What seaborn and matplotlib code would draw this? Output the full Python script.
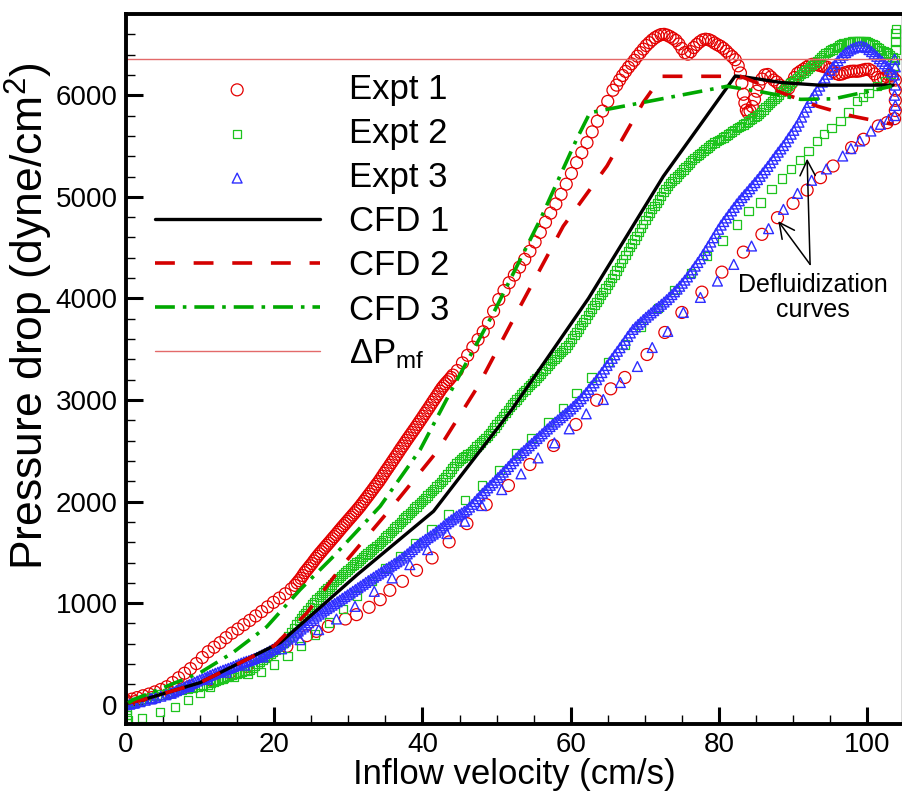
import matplotlib
matplotlib.use("Agg")
import matplotlib.pyplot as plt
from matplotlib.ticker import MultipleLocator
import seaborn as sns

# ---------------- data: (velocity, pressure drop) ----------------
# Expt 1, fluidization branch (dense)
expt1_fluid = [
    (0.0, 40), (0.3, 20), (0.8, 55), (1.5, 70), (2.3, 88), (3.1, 105), (3.9, 126), (4.7, 150), (5.5, 177), (6.3, 218),
    (7.1, 265), (7.9, 310), (8.7, 355), (9.5, 405), (10.3, 465), (11.1, 522), (11.9, 566), (12.7, 611), (13.5, 660), (14.3, 705),
    (15.1, 745), (15.9, 788), (16.7, 830), (17.5, 874), (18.3, 917), (19.1, 963), (19.9, 1008), (20.7, 1050), (21.5, 1092), (22.3, 1140),
    (22.8, 1175), (23.1, 1200), (23.35, 1222), (23.6, 1245), (23.85, 1272), (24.1, 1300), (24.35, 1322), (24.6, 1345), (24.85, 1368), (25.1, 1390),
    (25.35, 1415), (25.6, 1440), (25.85, 1462), (26.1, 1485), (26.35, 1506), (26.6, 1528), (26.85, 1549), (27.1, 1570), (27.35, 1591), (27.6, 1612),
    (27.85, 1634), (28.1, 1655), (28.35, 1676), (28.6, 1698), (28.85, 1720), (29.1, 1742), (29.35, 1763), (29.6, 1784), (29.85, 1805), (30.1, 1826),
    (30.35, 1847), (30.6, 1868), (30.85, 1889), (31.1, 1910), (31.35, 1932), (31.6, 1954), (31.85, 1978), (32.1, 2002), (32.35, 2026), (32.6, 2050),
    (32.85, 2074), (33.1, 2098), (33.35, 2123), (33.6, 2148), (33.85, 2172), (34.1, 2196), (34.35, 2223), (34.6, 2250), (34.85, 2278), (35.1, 2305),
    (35.35, 2331), (35.6, 2358), (35.85, 2385), (36.1, 2412), (36.35, 2439), (36.6, 2466), (36.85, 2494), (37.1, 2522), (37.35, 2548), (37.6, 2575),
    (37.85, 2602), (38.1, 2628), (38.35, 2654), (38.6, 2680), (38.85, 2706), (39.1, 2732), (39.35, 2759), (39.6, 2786), (39.85, 2813), (40.1, 2840),
    (40.35, 2868), (40.6, 2895), (40.85, 2922), (41.1, 2950), (41.35, 2978), (41.6, 3005), (41.85, 3032), (42.1, 3060), (42.35, 3088), (42.6, 3115),
    (42.85, 3138), (43.1, 3160), (43.35, 3180), (43.6, 3200), (43.85, 3222), (44.1, 3245), (44.7, 3290), (45.4, 3365), (46.1, 3440), (46.8, 3520),
    (47.5, 3595), (48.2, 3672), (48.9, 3760), (49.6, 3875), (50.3, 3990), (51.0, 4078), (51.7, 4155), (52.4, 4230), (53.1, 4308), (53.8, 4385),
    (54.5, 4465), (55.2, 4555), (55.9, 4650), (56.6, 4750), (57.3, 4840), (58.0, 4930), (58.7, 5025), (59.4, 5125), (60.1, 5230), (60.8, 5337),
    (61.5, 5435), (62.2, 5534), (62.9, 5640), (63.6, 5745), (64.3, 5845), (65.0, 5940), (65.7, 6050), (66.2, 6100), (66.6, 6150), (67.0, 6195),
    (67.4, 6235), (67.8, 6275), (68.2, 6310), (68.6, 6345), (69.0, 6385), (69.4, 6420), (69.8, 6455), (70.2, 6490), (70.6, 6518), (71.0, 6545),
    (71.4, 6568), (71.8, 6585), (72.2, 6598), (72.6, 6600), (73.0, 6592), (73.4, 6578), (73.8, 6560), (74.2, 6540), (74.6, 6505), (75.0, 6460),
    (75.4, 6420), (75.8, 6405), (76.2, 6430), (76.6, 6470), (77.0, 6500), (77.4, 6525), (77.8, 6545), (78.2, 6552), (78.6, 6548), (79.0, 6535),
    (79.4, 6515), (79.8, 6498), (80.2, 6483), (80.6, 6462), (81.0, 6435), (81.4, 6405), (81.8, 6380), (82.2, 6350), (82.6, 6290), (82.9, 6220),
    (83.1, 6120), (83.3, 6010), (83.5, 5925), (83.7, 5855), (83.9, 5830), (84.2, 5845), (84.5, 5890), (84.8, 5960), (85.1, 6040), (85.4, 6105),
    (85.8, 6160), (86.2, 6200), (86.6, 6205), (87.0, 6180), (87.4, 6150), (87.8, 6130), (88.2, 6100), (88.6, 6075), (89.0, 6062), (89.4, 6070),
    (89.8, 6120), (90.2, 6175), (90.6, 6215), (91.0, 6236), (91.4, 6255), (91.8, 6275), (92.2, 6295), (92.6, 6305), (93.0, 6305), (93.4, 6298),
    (93.8, 6290), (94.2, 6282), (94.6, 6276), (95.0, 6255), (95.4, 6235), (95.8, 6215), (96.2, 6205), (96.6, 6210), (97.0, 6222), (97.4, 6230),
    (97.8, 6236), (98.2, 6238), (98.6, 6236), (99.0, 6240), (99.4, 6248), (99.8, 6255), (100.2, 6256), (100.6, 6240), (101.0, 6210), (101.4, 6175),
    (101.8, 6158), (102.2, 6170), (102.6, 6185), (103.0, 6195), (103.4, 6190), (103.8, 6150), (103.8, 6050), (103.8, 5950), (103.8, 5850), (103.7, 5770),
]
# Expt 1, defluidization branch (sparse)
expt1_defluid = [
    (102.7, 5731), (101.5, 5698), (99.5, 5567), (97.9, 5485), (95.4, 5304), (93.7, 5189), (91.9, 5067), (90.0, 4936), (87.9, 4795), (85.8, 4631),
    (83.3, 4456), (80.4, 4259), (77.7, 4062), (75.0, 3862), (72.7, 3665), (70.3, 3448), (67.3, 3222), (65.4, 3110), (63.5, 2998), (60.7, 2759),
    (57.7, 2552), (54.5, 2365), (51.6, 2158), (48.6, 1970), (46.0, 1783), (43.6, 1603), (41.3, 1445), (39.2, 1323), (37.3, 1215), (35.6, 1126),
    (34.3, 1034), (32.8, 959), (31.1, 887), (29.6, 844), (27.3, 771), (25.7, 722), (24.4, 680), (21.7, 574), (19.0, 476), (16.3, 377),
    (14.0, 315), (11.3, 246), (8.6, 180), (6.0, 120), (3.5, 70), (1.2, 30), (0.2, 10),
]

# Expt 2
expt2_fluid = [
    (0.0, 0), (0.6, 10), (1.3, 25), (2.0, 40), (2.7, 55), (3.4, 70), (4.1, 85), (4.8, 100), (5.5, 112), (6.2, 125),
    (6.9, 138), (7.6, 150), (8.3, 160), (9.0, 170), (9.7, 180), (10.4, 190),
    (11.1, 200), (11.45, 212), (11.8, 225), (12.15, 236), (12.5, 248), (12.85, 258), (13.2, 268), (13.55, 277), (13.9, 285), (14.25, 292),
    (14.6, 300), (14.95, 307), (15.3, 315), (15.65, 322), (16.0, 330), (16.35, 337), (16.7, 345), (17.05, 363), (17.4, 382), (17.75, 401),
    (18.1, 420), (18.45, 440), (18.8, 460), (19.15, 480), (19.5, 500), (19.85, 522), (20.2, 545), (20.55, 567), (20.9, 590), (21.25, 612),
    (21.6, 635), (21.95, 672), (22.3, 710), (22.65, 750), (23.0, 790), (23.3, 822), (23.6, 855), (23.9, 880), (24.2, 905), (24.5, 932),
    (24.8, 960), (25.1, 985), (25.4, 1010), (25.7, 1035), (26.0, 1060), (26.3, 1082), (26.6, 1105), (26.9, 1125), (27.2, 1145), (27.5, 1165),
    (27.8, 1185), (28.1, 1206), (28.4, 1228), (28.7, 1248), (29.0, 1268), (29.3, 1286), (29.6, 1305), (29.9, 1325), (30.2, 1345), (30.5, 1363),
    (30.8, 1382), (31.1, 1400), (31.4, 1418), (31.7, 1435), (32.0, 1452), (32.3, 1471), (32.6, 1490), (32.9, 1509), (33.2, 1528), (33.5, 1546),
    (33.8, 1564), (34.1, 1582), (34.4, 1600), (34.7, 1622), (35.0, 1645), (35.3, 1667), (35.6, 1690), (35.9, 1712), (36.2, 1735), (36.5, 1756),
    (36.8, 1778), (37.1, 1800), (37.4, 1822), (37.7, 1843), (38.0, 1865), (38.3, 1888), (38.6, 1910), (38.9, 1931), (39.2, 1952), (39.5, 1973),
    (39.8, 1995), (40.1, 2016), (40.4, 2038), (40.7, 2060), (41.0, 2082), (41.3, 2103), (41.6, 2125), (41.9, 2147), (42.2, 2170), (42.5, 2193),
    (42.8, 2217), (43.1, 2243), (43.4, 2270), (43.7, 2297), (44.0, 2325), (44.3, 2353), (44.6, 2381), (44.9, 2400), (45.2, 2420), (45.5, 2435),
    (45.8, 2450), (46.1, 2465), (46.4, 2480), (46.7, 2500), (47.0, 2520), (47.3, 2541), (47.6, 2562), (47.9, 2583), (48.2, 2605), (48.5, 2628),
    (48.8, 2652), (49.1, 2676), (49.4, 2700), (49.7, 2730), (50.0, 2760), (50.3, 2787), (50.6, 2815), (50.9, 2843), (51.2, 2872), (51.5, 2900),
    (51.8, 2928), (52.1, 2955), (52.4, 2982), (52.7, 3006), (53.0, 3030), (53.3, 3054), (53.6, 3078), (53.9, 3101), (54.2, 3125), (54.5, 3147),
    (54.8, 3170), (55.1, 3192), (55.4, 3215), (55.7, 3238), (56.0, 3262), (56.3, 3286), (56.6, 3310), (56.9, 3335), (57.2, 3360), (57.5, 3382),
    (57.8, 3405), (58.1, 3427), (58.4, 3450), (58.7, 3471), (59.0, 3492), (59.3, 3516), (59.6, 3540), (59.9, 3572), (60.2, 3605), (60.5, 3638),
    (60.8, 3672), (61.1, 3705), (61.4, 3738), (61.7, 3769), (62.0, 3800), (62.3, 3834), (62.6, 3868), (62.9, 3901), (63.2, 3935), (63.5, 3967),
    (63.8, 4000), (64.1, 4032), (64.4, 4065), (64.7, 4097), (65.0, 4130), (65.3, 4165), (65.6, 4200), (65.9, 4237), (66.2, 4275), (66.5, 4312),
    (66.8, 4350), (67.1, 4387), (67.4, 4425), (67.7, 4465), (68.0, 4505), (68.3, 4542), (68.6, 4580), (68.9, 4617), (69.2, 4655), (69.5, 4692),
    (69.8, 4730), (70.1, 4770), (70.4, 4810), (70.7, 4845), (71.0, 4880), (71.3, 4910), (71.6, 4940), (71.9, 4975), (72.2, 5010), (72.5, 5045),
    (72.8, 5080), (73.1, 5107), (73.4, 5135), (73.7, 5157), (74.0, 5180), (74.3, 5202), (74.6, 5225), (74.9, 5247), (75.2, 5270), (75.5, 5292),
    (75.8, 5315), (76.1, 5337), (76.4, 5360), (76.7, 5380), (77.0, 5400), (77.3, 5417), (77.6, 5435), (77.9, 5452), (78.2, 5470), (78.5, 5487),
    (78.8, 5505), (79.1, 5520), (79.4, 5535), (79.7, 5547), (80.0, 5560), (80.3, 5572), (80.6, 5585), (80.9, 5600), (81.2, 5615), (81.5, 5630),
    (81.8, 5645), (82.1, 5660), (82.4, 5675), (82.7, 5687), (83.0, 5700), (83.3, 5714), (83.6, 5728), (83.9, 5741), (84.2, 5755), (84.5, 5770),
    (84.8, 5785), (85.1, 5800), (85.4, 5815), (85.7, 5837), (86.0, 5860), (86.3, 5882), (86.6, 5905), (86.9, 5925), (87.2, 5945), (87.5, 5965),
    (87.8, 5985), (88.1, 6007), (88.4, 6030), (88.7, 6052), (89.0, 6075), (89.3, 6095), (89.6, 6115), (89.9, 6132), (90.2, 6150), (90.5, 6170),
    (90.8, 6190), (91.1, 6207), (91.4, 6225), (91.7, 6243), (92.0, 6262), (92.3, 6281), (92.6, 6300), (92.9, 6320), (93.2, 6340), (93.5, 6360),
    (93.8, 6380), (94.1, 6397), (94.4, 6415), (94.7, 6427), (95.0, 6440), (95.3, 6452), (95.6, 6465), (95.9, 6477), (96.2, 6490), (96.5, 6500),
    (96.8, 6510), (97.1, 6516), (97.4, 6522), (97.7, 6526), (98.0, 6530), (98.3, 6532), (98.6, 6535), (98.9, 6535), (99.2, 6535), (99.5, 6532),
    (99.8, 6530), (100.1, 6522), (100.4, 6515), (100.7, 6502), (101.0, 6490), (101.3, 6475), (101.6, 6460), (101.9, 6447), (102.2, 6435), (102.5, 6422),
    (102.8, 6410), (103.1, 6395), (103.4, 6380), (103.8, 6450), (103.8, 6530), (103.8, 6610), (103.9, 6650), (103.7, 6350), (103.6, 6290),
]
expt2_defluid = [
    (103.2, 6210), (102.4, 6138), (101.3, 6090), (100.2, 6020), (99.4, 5985), (98.6, 5944), (97.5, 5829), (96.4, 5747), (95.2, 5681), (94.2, 5616),
    (93.2, 5550), (92.1, 5451), (90.9, 5360), (89.7, 5275), (88.5, 5182), (87.1, 5079), (85.6, 4946), (84.0, 4860), (82.4, 4729), (80.5, 4571),
    (78.4, 4417), (76.2, 4250), (74.0, 4085), (71.8, 3905), (69.5, 3725), (67.3, 3545), (65.0, 3375), (62.8, 3220), (60.8, 3070), (59.0, 2923),
    (57.0, 2781), (54.7, 2627), (52.6, 2473), (50.4, 2309), (48.0, 2158), (45.7, 2013), (43.5, 1872), (41.2, 1724), (39.0, 1593), (37.0, 1461),
    (35.0, 1346), (33.2, 1215), (31.2, 1075), (29.3, 940), (27.4, 810), (25.5, 690), (23.6, 580), (21.8, 480), (20.0, 395), (18.2, 325),
    (16.4, 300), (14.6, 275), (13.1, 250), (11.3, 177), (10.0, 118), (8.4, 49), (6.6, -20), (4.6, -69), (2.2, -128), (0.3, -148),
    (0.1, -180), (0.1, -100), (0.1, -50),
]

# Expt 3
expt3_fluid = [
    (0.0, 0), (0.5, 5), (1.2, 18), (1.9, 30), (2.6, 44), (3.3, 57), (4.0, 70), (4.7, 84), (5.4, 98), (6.1, 113),
    (6.45, 126), (6.8, 140), (7.15, 151), (7.5, 163), (7.85, 174), (8.2, 186), (8.55, 198), (8.9, 210), (9.25, 221), (9.6, 233),
    (9.95, 245), (10.3, 256), (10.65, 267), (11.0, 278), (11.35, 289), (11.7, 300), (12.05, 310), (12.4, 320), (12.75, 330), (13.1, 340),
    (13.45, 349), (13.8, 358), (14.15, 367), (14.5, 377), (14.85, 388), (15.2, 400), (15.55, 410), (15.9, 420), (16.25, 428), (16.6, 435),
    (16.95, 445), (17.3, 455), (17.65, 466), (18.0, 478), (18.35, 490), (18.7, 502), (19.05, 516), (19.4, 530), (19.75, 545), (20.1, 560),
    (20.45, 576), (20.8, 592), (21.15, 609), (21.5, 627), (21.85, 646), (22.2, 665), (22.55, 685), (22.9, 705), (23.25, 725), (23.6, 745),
    (23.95, 765), (24.3, 785), (24.65, 807), (25.0, 830), (25.35, 851), (25.7, 873), (26.05, 892), (26.4, 912), (26.75, 930), (27.1, 947),
    (27.45, 963), (27.8, 980), (28.15, 996), (28.5, 1013), (28.85, 1030), (29.2, 1048), (29.55, 1065), (29.9, 1082), (30.25, 1100), (30.6, 1117),
    (30.95, 1134), (31.3, 1152), (31.65, 1169), (32.0, 1186), (32.35, 1204), (32.7, 1222), (33.05, 1238), (33.4, 1255), (33.75, 1272), (34.1, 1288),
    (34.45, 1305), (34.8, 1322), (35.15, 1340), (35.5, 1357), (35.85, 1373), (36.2, 1390), (36.55, 1407), (36.9, 1424), (37.25, 1444), (37.6, 1464),
    (37.95, 1485), (38.3, 1506), (38.65, 1528), (39.0, 1550), (39.35, 1571), (39.7, 1593), (40.05, 1610), (40.4, 1628), (40.75, 1645), (41.1, 1662),
    (41.45, 1680), (41.8, 1698), (42.15, 1719), (42.5, 1740), (42.85, 1761), (43.2, 1782), (43.55, 1801), (43.9, 1820), (44.25, 1838), (44.6, 1856),
    (44.95, 1872), (45.3, 1888), (45.65, 1904), (46.0, 1920), (46.35, 1946), (46.7, 1973), (47.05, 2000), (47.4, 2028), (47.75, 2055), (48.1, 2082),
    (48.45, 2108), (48.8, 2135), (49.15, 2160), (49.5, 2185), (49.85, 2211), (50.2, 2237), (50.55, 2263), (50.9, 2290), (51.25, 2317), (51.6, 2345),
    (51.95, 2373), (52.3, 2402), (52.65, 2429), (53.0, 2456), (53.35, 2480), (53.7, 2503), (54.05, 2526), (54.4, 2550), (54.75, 2573), (55.1, 2597),
    (55.45, 2621), (55.8, 2645), (56.15, 2668), (56.5, 2692), (56.85, 2715), (57.2, 2739), (57.55, 2761), (57.9, 2783), (58.25, 2804), (58.6, 2826),
    (58.95, 2847), (59.3, 2868), (59.65, 2890), (60.0, 2912), (60.35, 2937), (60.7, 2962), (61.05, 2987), (61.4, 3013), (61.75, 3042), (62.1, 3072),
    (62.45, 3105), (62.8, 3138), (63.15, 3169), (63.5, 3200), (63.85, 3235), (64.2, 3270), (64.55, 3305), (64.9, 3340), (65.25, 3375), (65.6, 3410),
    (65.95, 3445), (66.3, 3480), (66.65, 3515), (67.0, 3550), (67.35, 3587), (67.7, 3625), (68.05, 3660), (68.4, 3695), (68.75, 3720), (69.1, 3745),
    (69.45, 3768), (69.8, 3792), (70.15, 3815), (70.5, 3837), (70.85, 3858), (71.2, 3880), (71.55, 3901), (71.9, 3922), (72.25, 3943), (72.6, 3965),
    (72.95, 3988), (73.3, 4012), (73.65, 4038), (74.0, 4065), (74.35, 4092), (74.7, 4120), (75.05, 4150), (75.4, 4180), (75.75, 4212), (76.1, 4245),
    (76.45, 4281), (76.8, 4318), (77.15, 4354), (77.5, 4390), (77.85, 4431), (78.2, 4472), (78.55, 4513), (78.9, 4555), (79.25, 4597), (79.6, 4640),
    (79.95, 4681), (80.3, 4722), (80.65, 4757), (81.0, 4792), (81.35, 4827), (81.7, 4862), (82.05, 4896), (82.4, 4930), (82.75, 4961), (83.1, 4993),
    (83.45, 5021), (83.8, 5050), (84.15, 5080), (84.5, 5110), (84.85, 5140), (85.2, 5170), (85.55, 5202), (85.9, 5235), (86.25, 5267), (86.6, 5300),
    (86.95, 5335), (87.3, 5370), (87.65, 5405), (88.0, 5440), (88.35, 5472), (88.7, 5505), (89.05, 5542), (89.4, 5580), (89.75, 5617), (90.1, 5655),
    (90.45, 5695), (90.8, 5735), (91.15, 5785), (91.5, 5835), (91.85, 5882), (92.2, 5930), (92.55, 5970), (92.9, 6010), (93.25, 6050), (93.6, 6090),
    (93.95, 6130), (94.3, 6170), (94.65, 6207), (95.0, 6245), (95.35, 6278), (95.7, 6310), (96.05, 6340), (96.4, 6370), (96.75, 6395), (97.1, 6420),
    (97.45, 6438), (97.8, 6455), (98.15, 6465), (98.5, 6475), (98.85, 6480), (99.2, 6485), (99.55, 6478), (99.9, 6470), (100.25, 6450), (100.6, 6430),
    (100.95, 6407), (101.3, 6384), (101.65, 6360), (102.0, 6335), (102.35, 6310), (102.7, 6286), (103.0, 6258), (103.3, 6230), (103.7, 6355), (103.8, 6280),
    (103.7, 6200), (103.8, 6100), (103.7, 6000), (103.8, 5900), (103.7, 5800),
]
expt3_defluid = [
    (102.9, 5764), (101.8, 5714), (100.5, 5648), (99.0, 5550), (97.8, 5475), (96.7, 5402), (94.5, 5275), (92.5, 5163), (90.6, 5034), (88.7, 4877),
    (86.7, 4687), (84.4, 4516), (82.0, 4335), (79.8, 4171), (77.5, 4010), (75.2, 3862), (73.1, 3675), (71.0, 3517), (69.0, 3330), (66.7, 3172),
    (64.4, 3005), (62.1, 2864), (59.8, 2716), (57.8, 2578), (55.6, 2430), (53.3, 2273), (50.7, 2118), (48.0, 1961), (45.7, 1806), (43.3, 1685),
    (40.7, 1527), (38.3, 1379), (35.9, 1248), (33.5, 1116), (30.9, 968), (28.4, 844), (26.0, 739), (23.5, 640), (21.0, 550), (18.5, 470),
    (16.0, 390), (13.5, 320), (11.0, 250), (8.5, 180), (6.0, 115), (3.5, 60), (1.0, 15),
]

# CFD results
cfd1_x = [0.3, 2.3, 10.0, 20.8, 31.2, 41.5, 52.0, 62.4, 72.5, 82.2, 83.5, 88.5, 93.5, 103.5]
cfd1_y = [17, 49, 217, 611, 1280, 1905, 2900, 4000, 5202, 6190, 6180, 6125, 6100, 6100]
cfd2_x = [0.3, 2.3, 10.0, 20.0, 24.4, 29.3, 35.6, 42.0, 47.5, 53.2, 59.0, 64.9, 69.8, 72.3,
          82.9, 88.3, 93.3, 98.1, 103.5]
cfd2_y = [17, 49, 217, 580, 903, 1379, 1921, 2496, 3136, 3924, 4712, 5304, 5931, 6187,
          6187, 6030, 5892, 5793, 5714]
cfd3_x = [0.3, 1.0, 10.0, 14.4, 19.0, 23.5, 28.0, 34.3, 39.7, 44.2, 49.6, 55.9, 60.8, 62.6,
          81.1, 86.0, 91.0, 95.5, 103.3]
cfd3_y = [17, 49, 315, 512, 768, 1133, 1461, 1954, 2512, 3136, 3859, 4778, 5567, 5829,
          6089, 6030, 5960, 5965, 6089]

dp_mf = 6355

# annotation: text anchor and arrow targets
annot_text_xy = (92.7, 4246)
arrow_from = (92.3, 4335)
arrow_tips = [(91.9, 5376), (88.0, 4761)]


def unzip(pairs):
    return [p[0] for p in pairs], [p[1] for p in pairs]


# ---------------- style ----------------
sns.set_style("ticks", {"axes.edgecolor": "black", "xtick.color": "black",
                        "ytick.color": "black", "text.color": "black",
                        "axes.labelcolor": "black"})
plt.rcParams["font.family"] = ["Liberation Sans", "DejaVu Sans"]
plt.rcParams["mathtext.fontset"] = "custom"
plt.rcParams["mathtext.rm"] = "Liberation Sans"
plt.rcParams["mathtext.it"] = "Liberation Sans:italic"
plt.rcParams["mathtext.bf"] = "Liberation Sans:bold"

red = "#e40000"
green = "#1ec41e"
blue = "#2e2eff"

fig = plt.figure(figsize=(9.03, 7.93), dpi=100)
ax = fig.add_axes([0.1395, 0.087, 0.8594, 0.8953])

e1x, e1y = unzip(expt1_fluid + expt1_defluid)
e2x, e2y = unzip(expt2_fluid + expt2_defluid)
e3x, e3y = unzip(expt3_fluid + expt3_defluid)

sns.scatterplot(x=e1x, y=e1y, marker="o", s=74, color=red, facecolor="none", edgecolor=red,
                linewidth=0.9, ax=ax, label="Expt 1", legend=False, zorder=1)
sns.scatterplot(x=e2x, y=e2y, marker="s", s=36, color=green, facecolor="none", edgecolor=green,
                linewidth=0.9, ax=ax, label="Expt 2", legend=False, zorder=1)
sns.scatterplot(x=e3x, y=e3y, marker="^", s=50, color=blue, facecolor="none", edgecolor=blue,
                linewidth=1.0, ax=ax, label="Expt 3", legend=False, zorder=1)

sns.lineplot(x=cfd1_x, y=cfd1_y, color="black", linewidth=2.4, sort=False, estimator=None,
             ax=ax, label="CFD 1", legend=False, zorder=3)
sns.lineplot(x=cfd2_x, y=cfd2_y, color="#d40000", linewidth=2.6, linestyle=(0, (5.5, 5.2)),
             sort=False, estimator=None, ax=ax, label="CFD 2", legend=False, zorder=3)
sns.lineplot(x=cfd3_x, y=cfd3_y, color="#00a800", linewidth=2.6,
             linestyle=(0, (5.5, 2.2, 1.0, 2.2)),
             sort=False, estimator=None, ax=ax, label="CFD 3", legend=False, zorder=3)
ax.axhline(dp_mf, color="#e36a6a", linewidth=1.0, label=r"ΔP$_{\rm mf}$", zorder=2)

ax.text(annot_text_xy[0], annot_text_xy[1], "Defluidization\ncurves", fontsize=18,
        ha="center", va="top", linespacing=1.05)
for tip in arrow_tips:
    ax.annotate("", xy=tip, xytext=arrow_from,
                arrowprops=dict(arrowstyle="->,head_length=1.1,head_width=0.55",
                                lw=1.1, color="black", shrinkA=0, shrinkB=0,
                                mutation_scale=10))

ax.set_xlim(0, 104.7)
ax.set_ylim(-190, 6800)
ax.xaxis.set_major_locator(MultipleLocator(20))
ax.xaxis.set_minor_locator(MultipleLocator(5))
ax.yaxis.set_major_locator(MultipleLocator(1000))
ax.yaxis.set_minor_locator(MultipleLocator(200))
ax.tick_params(which="both", direction="in", top=False, right=False, colors="black")
ax.tick_params(which="major", length=12, width=2.2, labelsize=20, pad=6)
ax.tick_params(which="minor", length=6.5, width=1.0)
for side in ["left", "bottom", "top"]:
    ax.spines[side].set_linewidth(2.8)
    ax.spines[side].set_color("black")
ax.spines["right"].set_linewidth(1.0)
ax.spines["right"].set_color("#444444")

ax.set_xlabel("Inflow velocity (cm/s)", fontsize=25, va="top")
ax.xaxis.set_label_coords(0.5, -0.048)
ax.set_ylabel("Pressure drop (dyne/cm$^2$)", fontsize=32)
ax.yaxis.set_label_coords(-0.091, 0.575)

ax.legend(loc="upper left", bbox_to_anchor=(0.037, 0.917), frameon=False, fontsize=25,
          handlelength=4.75, handletextpad=0.85, labelspacing=0.32, borderpad=0,
          borderaxespad=0, scatterpoints=1)

fig.savefig("out.png", dpi=100, facecolor="white")
